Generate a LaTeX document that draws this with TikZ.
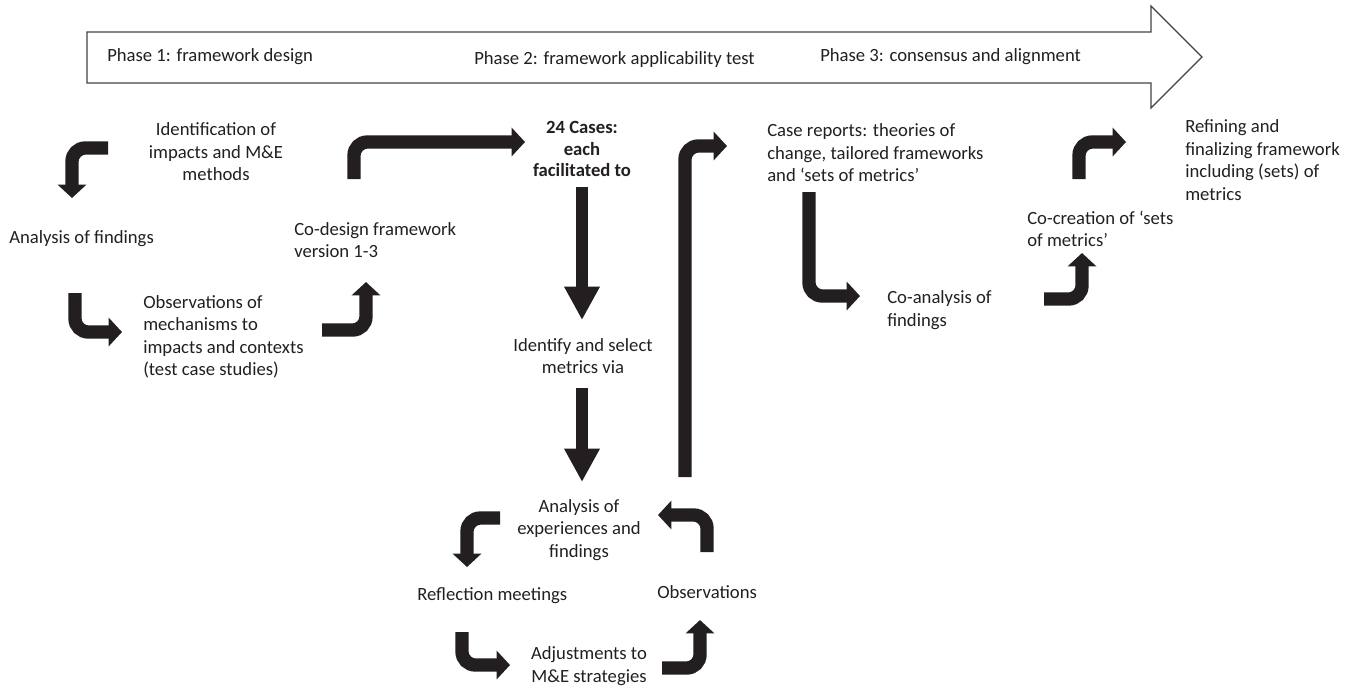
\documentclass[tikz,border=0pt]{standalone}
\usepackage{fontspec}
\setmainfont{Carlito}
\usepackage{tikz}
\usetikzlibrary{arrows.meta,positioning}
\definecolor{inkc}{HTML}{231F20}
\tikzset{
        lbl/.style = {inner sep=0pt, text=inkc,
            font=\fontsize{14}{16.9}\selectfont},
        bent/.style = {draw=inkc, line width=10pt,
            rounded corners=10pt,
            -{Triangle[length=10pt,width=21pt]}},
        downarr/.style = {draw=inkc, line width=9pt,
            -{Triangle[length=25pt,width=25pt]}},
        phasebar/.style = {draw=inkc!85, line width=1pt, fill=white},
    }

\begin{document}
\begin{tikzpicture}[x=0.75pt,y=-0.75pt]
    \useasboundingbox (0,0) rectangle (1355,687);
    % phase arrow
    \draw[phasebar] (87,32) -- (1151,32) -- (1151,6) -- (1202,57)
        -- (1151,108) -- (1151,83) -- (87,83) -- cycle;
    \node[lbl, anchor=west] (ph1) at (107,57) {Phase 1: framework design};
    \node[lbl, anchor=west] (ph2) at (474,60) {Phase 2: framework applicability test};
    \node[lbl, anchor=west] (ph3) at (820,57) {Phase 3: consensus and alignment};

    % phase 1
    \node[lbl, align=center] (ident) at (216,152) {Identification of\\impacts and M\&E\\methods};
    \node[lbl, anchor=west] (anafind) at (9,239) {Analysis of findings};
    \node[lbl, anchor=west, align=left] (obsmech) at (143,337) {Observations of\\mechanisms to\\impacts and contexts\\(test case studies)};
    \node[lbl, anchor=west, align=left] (codesign) at (294,240) {Co-design framework\\version 1-3};

    % phase 2
    \node[lbl, align=center, font=\fontsize{14}{16.4}\selectfont\bfseries] (cases) at (582,149) {24 Cases:\\each\\facilitated to};
    \node[lbl, align=center] (select) at (583,356) {Identify and select\\metrics via};
    \node[lbl, align=center] (anaexp) at (579,530) {Analysis of\\experiences and\\findings};
    \node[lbl, anchor=west] (reflect) at (417,596) {Reflection meetings};
    \node[lbl, anchor=west] (observ) at (657,592) {Observations};
    \node[lbl, align=center] (adjust) at (589,666) {Adjustments to\\M\&E strategies};

    % phase 3
    \node[lbl, anchor=west, align=left] (reports) at (767,153) {Case reports: theories of\\change, tailored frameworks\\and `sets of metrics'};
    \node[lbl, anchor=west, align=left] (coanal) at (887,310) {Co-analysis of\\findings};
    \node[lbl, anchor=west, align=left] (cocreate) at (1027,229) {Co-creation of `sets\\of metrics'};
    \node[lbl, anchor=west, align=left] (refine) at (1185,160) {Refining and\\finalizing framework\\including (sets) of\\metrics};

    % arrow ends
    \coordinate (a1s) at (108,148);  \coordinate (a1e) at (72,198);
    \coordinate (a2s) at (75,293);   \coordinate (a2e) at (122,332);
    \coordinate (a3s) at (322,330);  \coordinate (a3e) at (366,282);
    \coordinate (a4s) at (354,179);  \coordinate (a4e) at (525,142);
    \coordinate (d1s) at (582,187);  \coordinate (d1e) at (582,320);
    \coordinate (d2s) at (582,388);  \coordinate (d2e) at (582,482);
    \coordinate (ups) at (685,477);  \coordinate (upe) at (727,146);
    \coordinate (b1s) at (500,518);  \coordinate (b1e) at (467,567);
    \coordinate (b2s) at (462,632);  \coordinate (b2e) at (510,665);
    \coordinate (b3s) at (662,668);  \coordinate (b3e) at (700,620);
    \coordinate (b4s) at (707,552);  \coordinate (b4e) at (658,515);
    \coordinate (c1s) at (809,192);  \coordinate (c1e) at (860,296);
    \coordinate (c2s) at (1044,299); \coordinate (c2e) at (1082,253);
    \coordinate (c3s) at (1079,179); \coordinate (c3e) at (1126,142);

    \draw[bent] (a1s) -| (a1e);
    \draw[bent] (a2s) |- (a2e);
    \draw[bent] (a3s) -| (a3e);
    \draw[bent] (a4s) |- (a4e);
    \draw[downarr] (d1s) -- (d1e);
    \draw[downarr] (d2s) -- (d2e);
    \draw[bent] (ups) |- (upe);
    \draw[bent] (b1s) -| (b1e);
    \draw[bent] (b2s) |- (b2e);
    \draw[bent] (b3s) -| (b3e);
    \draw[bent] (b4s) |- (b4e);
    \draw[bent] (c1s) |- (c1e);
    \draw[bent] (c2s) -| (c2e);
    \draw[bent] (c3s) |- (c3e);
\end{tikzpicture}
\end{document}
